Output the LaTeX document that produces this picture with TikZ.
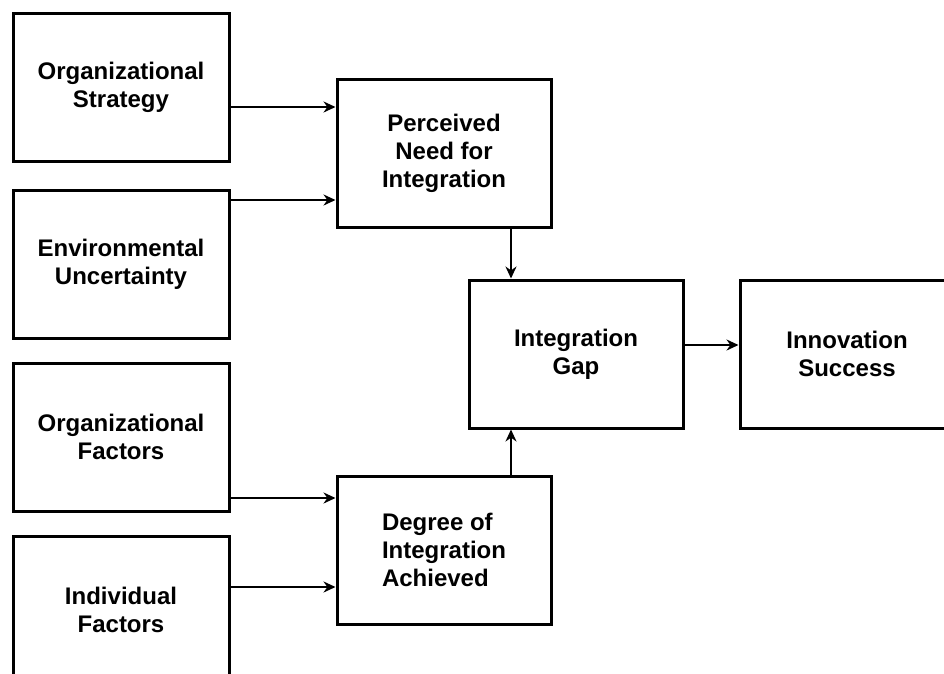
\documentclass[tikz,border=0pt]{standalone}
\usepackage{fontspec}
\setmainfont{Liberation Sans}
\usepackage{tikz}
\usetikzlibrary{arrows.meta, positioning}

\tikzset{
    block/.style={draw, line width=3pt, minimum width=216pt, minimum height=148pt, align=center,
        font=\bfseries\fontsize{24}{28}\selectfont, inner sep=0pt},
    flow/.style={line width=2.6pt, -{Stealth[length=12pt, width=11pt]}}
}

\begin{document}
\begin{tikzpicture}[x=1pt, y=-1pt]
    % page frame, the lowest and the rightmost boxes run past it
    \useasboundingbox (0,0) rectangle (944,673);
    \clip (0,0) rectangle (944,673);

    % inputs on the left
    \node[block] (strategy) at (121,87) {Organizational\\Strategy};
    \node[block] (uncertainty) at (121,264) {Environmental\\Uncertainty};
    \node[block] (orgfactors) at (121,437) {Organizational\\Factors};
    \node[block] (indfactors) at (121,610) {Individual\\Factors};

    % middle column
    \node[block, minimum width=214pt] (need) at (444,153) {Perceived\\Need for\\Integration};
    \node[block, minimum width=214pt, align=left] (degree) at (444,550) {Degree of\\Integration\\Achieved};
    \node[block, minimum width=214pt] (gap) at (576,354) {Integration\\Gap};
    \node[block, minimum width=214pt] (success) at (847,354) {Innovation\\Success};

    % arrows
    \draw[flow] ([yshift=-20pt]strategy.east) -- ([yshift=-20pt]strategy.east -| need.west);
    \draw[flow] ([yshift=64pt]uncertainty.east) -- ([yshift=64pt]uncertainty.east -| need.west);
    \draw[flow] ([yshift=-61pt]orgfactors.east) -- ([yshift=-61pt]orgfactors.east -| degree.west);
    \draw[flow] ([yshift=23pt]indfactors.east) -- ([yshift=23pt]indfactors.east -| degree.west);
    \draw[flow] ([xshift=67pt]need.south) -- ([xshift=67pt]need.south |- gap.north);
    \draw[flow] ([xshift=67pt]degree.north) -- ([xshift=67pt]degree.north |- gap.south);
    \draw[flow] ([yshift=9pt]gap.east) -- ([yshift=9pt]gap.east -| success.west);
\end{tikzpicture}
\end{document}
